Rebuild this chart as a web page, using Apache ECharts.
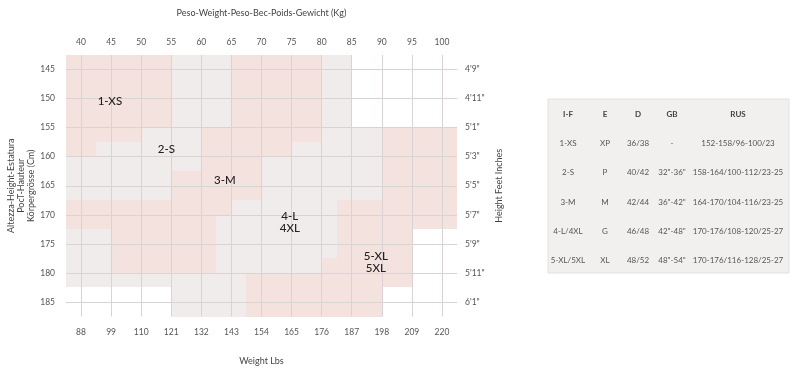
<!DOCTYPE html>
<html><head><meta charset="utf-8">
<script src="https://cdn.jsdelivr.net/npm/echarts@6/dist/echarts.min.js"></script>
<style>html,body{margin:0;padding:0;background:#fff}#c{width:799px;height:375px}</style>
</head><body><div id="c"></div>
<script>
// Axis ticks
const kgTicks = [40,45,50,55,60,65,70,75,80,85,90,95,100];
const lbsLabels = ['88','99','110','121','132','143','154','165','176','187','198','209','220'];
const cmTicks = [145,150,155,160,165,170,175,180,185];
const feetLabels = ["4'9\"","4'11\"","5'1\"","5'3\"","5'5\"","5'7\"","5'9\"","5'11\"","6'1\""];

// Size zone blocks (weight kg from/to, height cm from/to, shade 1=pink 0=grey)
const cellKgFrom = [37.5,37.5,37.5, 55,50,42.5,37.5,55, 65,60,65,60,55,37.5,37.5,45, 80,80,75,70,65,62.5,80,37.5,37.5,55, 90,82.5,90,80,67.5];
const cellKgTo   = [55,50,42.5, 65,60,60,55,60, 80,65,75,70,60,65,62.5,62.5, 85,90,90,90,82.5,80,82.5,45,55,67.5, 102.5,90,95,82.5,80];
const cellCmFrom = [142.5,155,157.5, 142.5,155,157.5,160,160, 142.5,155,157.5,160,162.5,167.5,170,172.5, 142.5,155,157.5,160,167.5,170,170,172.5,180,180, 155,167.5,172.5,177.5,180];
const cellCmTo   = [155,157.5,160, 155,157.5,160,167.5,162.5, 157.5,160,160,167.5,167.5,170,172.5,180, 155,157.5,160,167.5,170,180,177.5,180,182.5,187.5, 172.5,187.5,182.5,187.5,187.5];
const cellShade  = [1,1,1, 0,0,0,0,0, 1,1,1,1,1,1,1,1, 0,0,0,0,0,0,0,0,0,0, 1,1,1,1,1];

// Size labels
const sizeNames = ['1-XS','2-S','3-M','4-L\n4XL','5-XL\n5XL'];
const sizeKg = [44.8,54.2,63.9,74.7,89.0];
const sizeCm = [150.5,158.7,164.0,171.3,178.1];

// Conversion table
const tableHeader = ['I-F','E','D','GB','RUS'];
const colIF  = ['1-XS','2-S','3-M','4-L/4XL','5-XL/5XL'];
const colE   = ['XP','P','M','G','XL'];
const colD   = ['36/38','40/42','42/44','46/48','48/52'];
const colGB  = ['-','32"-36"','36"-42"','42"-48"','48"-54"'];
const colRUS = ['152-158/96-100/23','158-164/100-112/23-25','164-170/104-116/23-25','170-176/108-120/25-27','170-176/116-128/25-27'];

const PINK = '#f3e2dd', GREY = '#efeceb', LINE = '#d9d3d3';
const FONT = 'Lato';
const chart = echarts.init(document.getElementById('c'));

const cells = cellKgFrom.map((v,i)=>[v, cellKgTo[i], cellCmFrom[i], cellCmTo[i], cellShade[i]]);
const labels = sizeNames.map((n,i)=>[sizeKg[i], sizeCm[i], i]);

// table graphics
const colX = [568,605,638,672,738];
const rowY = [114,143,172,202,231,260];
const tableEls = [{type:'rect', shape:{x:548,y:99,width:241,height:174}, style:{fill:'#f1f0ef', stroke:'#e3e1e0', lineWidth:1}}];
tableHeader.forEach((h,j)=>tableEls.push({type:'text', x:colX[j], y:rowY[0], style:{text:h, align:'center', verticalAlign:'middle', font:'bold 8px '+FONT, fill:'#444'}}));
const cols = [colIF,colE,colD,colGB,colRUS];
colIF.forEach((_,i)=>cols.forEach((c,j)=>tableEls.push({type:'text', x:colX[j], y:rowY[i+1], style:{text:c[i], align:'center', verticalAlign:'middle', font:'8px '+FONT, fill:'#555'}})));

const axisLabelStyle = {color:'#555', fontSize:8.5, fontFamily:FONT};
const nameStyle = {color:'#444', fontSize:9, fontFamily:FONT};

chart.setOption({
  animation:false,
  grid:{left:66, right:342, top:55, bottom:58.5},
  graphic: tableEls,
  xAxis:[
    {type:'value', position:'top', min:37.5, max:102.5, z:10,
     name:'Peso-Weight-Peso-Bec-Poids-Gewicht (Kg)', nameLocation:'middle', nameGap:37, nameTextStyle:nameStyle,
     axisLine:{show:false}, axisTick:{show:false, customValues:kgTicks},
     axisLabel:Object.assign({customValues:kgTicks, margin:8}, axisLabelStyle),
     splitLine:{show:true, lineStyle:{color:LINE, width:1}}},
    {type:'value', position:'bottom', min:37.5, max:102.5, z:10,
     name:'Weight Lbs', nameLocation:'middle', nameGap:40, nameTextStyle:nameStyle,
     axisLine:{show:false}, axisTick:{show:false, customValues:kgTicks},
     axisLabel:Object.assign({customValues:kgTicks, margin:11, formatter:v=>lbsLabels[kgTicks.indexOf(v)]}, axisLabelStyle),
     splitLine:{show:false}}
  ],
  yAxis:[
    {type:'value', position:'left', inverse:true, min:142.5, max:187.5, z:10,
     name:'Altezza-Height-Estatura\nPocT-Hauteur\nKörpergrösse (Cm)', nameLocation:'middle', nameRotate:90, nameGap:25,
     nameTextStyle:Object.assign({lineHeight:10}, nameStyle),
     axisLine:{show:false}, axisTick:{show:false, customValues:cmTicks},
     axisLabel:Object.assign({customValues:cmTicks, margin:11}, axisLabelStyle),
     splitLine:{show:true, lineStyle:{color:LINE, width:1}}},
    {type:'value', position:'right', inverse:true, min:142.5, max:187.5, z:10,
     name:'Height Feet Inches', nameLocation:'middle', nameRotate:90, nameGap:38, nameTextStyle:nameStyle,
     axisLine:{show:false}, axisTick:{show:false, customValues:cmTicks},
     axisLabel:Object.assign({customValues:cmTicks, margin:8, formatter:v=>feetLabels[cmTicks.indexOf(v)]}, axisLabelStyle),
     splitLine:{show:false}}
  ],
  series:[
    {type:'custom', z:1, xAxisIndex:0, yAxisIndex:0, data:cells, encode:{x:[0,1], y:[2,3]},
     renderItem:function(params, api){
       const p0 = api.coord([api.value(0), api.value(2)]);
       const p1 = api.coord([api.value(1), api.value(3)]);
       const x0 = Math.round(Math.min(p0[0],p1[0])), x1 = Math.round(Math.max(p0[0],p1[0]));
       const y0 = Math.round(Math.min(p0[1],p1[1])), y1 = Math.round(Math.max(p0[1],p1[1]));
       return {type:'rect', shape:{x:x0, y:y0, width:x1-x0, height:y1-y0}, style:{fill: api.value(4)===1 ? PINK : GREY}};
     }},
    {type:'custom', z:20, xAxisIndex:0, yAxisIndex:0, data:labels, encode:{x:0, y:1},
     renderItem:function(params, api){
       const p = api.coord([api.value(0), api.value(1)]);
       return {type:'text', x:p[0], y:p[1], style:{text:sizeNames[api.value(2)], align:'center', verticalAlign:'middle', font:'500 11.5px '+FONT, lineHeight:12, fill:'#222'}};
     }}
  ]
});
</script>
</body></html>
